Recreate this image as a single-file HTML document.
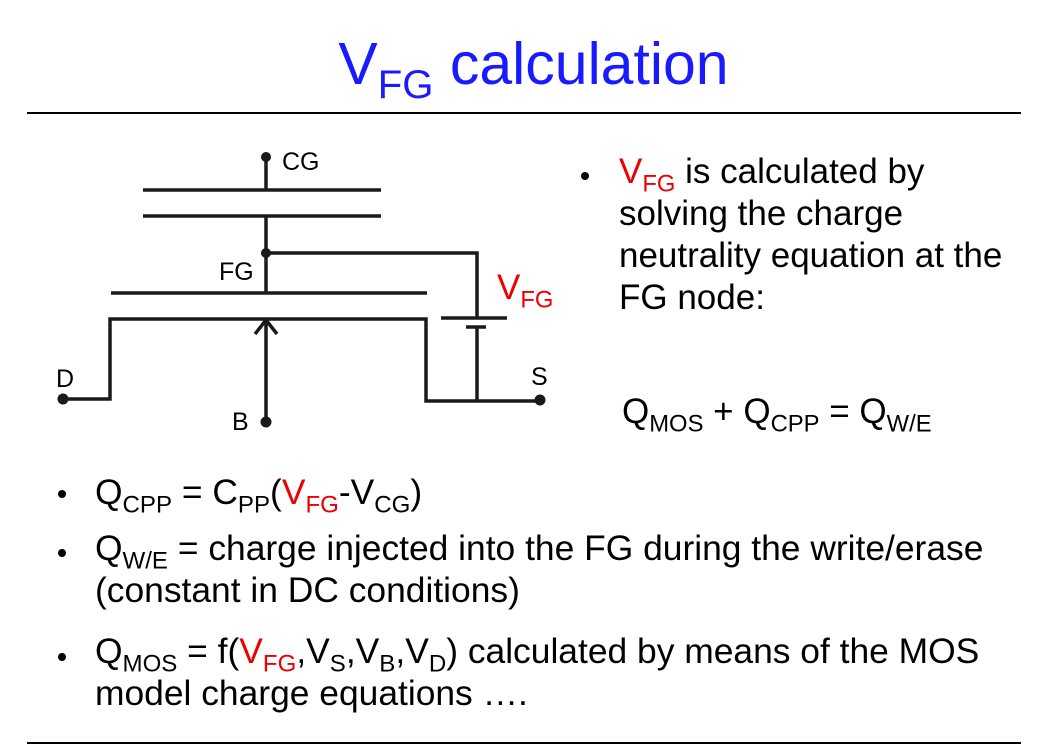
<!DOCTYPE html>
<html><head><style>
body{margin:0;width:1055px;height:748px;background:#fff;font-family:"Liberation Sans",sans-serif;position:relative;overflow:hidden}
.t{position:absolute;white-space:nowrap;color:#000}
sub{font-size:68%;vertical-align:-0.35em;line-height:0}
.r{color:#e00}
.b{position:absolute;width:8px;height:8px;border-radius:50%;background:#000}
</style></head><body>
<div class="t" style="left:0;width:1055px;text-align:center;top:30px;font-size:59px;color:#1a1aff"><span style="margin-left:12px">V<sub>FG</sub> calculation</span></div>
<div style="position:absolute;left:27px;top:112px;width:994px;height:2px;background:#000"></div>
<div style="position:absolute;left:27px;top:742px;width:994px;height:2px;background:#000"></div>
<svg width="1055" height="748" style="position:absolute;left:0;top:0" fill="none" stroke="#1a1a1a" stroke-width="3.5">
<line x1="266" y1="157" x2="266" y2="190"/>
<line x1="143" y1="190" x2="381" y2="190"/>
<line x1="143" y1="216" x2="381" y2="216"/>
<polyline points="266,216 266,253 477,253 477,318"/>
<line x1="266" y1="253" x2="266" y2="293"/>
<line x1="111" y1="293" x2="427" y2="293"/>
<line x1="441" y1="318" x2="507" y2="318"/>
<line x1="466" y1="327" x2="486" y2="327"/>
<line x1="477" y1="327" x2="477" y2="401"/>
<polyline points="63,399 110,399 110,319 426,319 426,401 540,401"/>
<line x1="266" y1="422" x2="266" y2="321"/>
<polyline points="255,334 266,320 277,334"/>
<g fill="#1a1a1a" stroke="none">
<circle cx="266" cy="157" r="5"/><circle cx="266" cy="253" r="5"/>
<circle cx="63" cy="399" r="5.5"/><circle cx="540" cy="400" r="5.5"/><circle cx="266" cy="422" r="5.5"/>
</g>
</svg>
<div class="t" style="left:282px;top:148px;font-size:25px">CG</div>
<div class="t" style="left:219px;top:258px;font-size:25px">FG</div>
<div class="t" style="left:56px;top:365px;font-size:25px">D</div>
<div class="t" style="left:531px;top:363px;font-size:25px">S</div>
<div class="t" style="left:232px;top:408px;font-size:25px">B</div>
<div class="t r" style="left:497px;top:268px;font-size:35px">V<sub>FG</sub></div>
<div class="b" style="left:581px;top:172px"></div>
<div class="t" style="left:619px;top:151px;font-size:35px;line-height:42px"><span class="r">V<sub>FG</sub></span> is calculated by<br>solving the charge<br>neutrality equation at the<br>FG node:</div>
<div class="t" style="left:622px;top:392px;font-size:35px">Q<sub>MOS</sub> + Q<sub>CPP</sub> = Q<sub>W/E</sub></div>
<div class="b" style="left:58px;top:490px"></div>
<div class="t" style="left:95px;top:472px;font-size:35.4px">Q<sub>CPP</sub> = C<sub>PP</sub>(<span class="r">V<sub>FG</sub></span>-V<sub>CG</sub>)</div>
<div class="b" style="left:58px;top:549px"></div>
<div class="t" style="left:95px;top:527px;font-size:35.4px;line-height:42px">Q<sub>W/E</sub> = charge injected into the FG during the write/erase<br>(constant in DC conditions)</div>
<div class="b" style="left:58px;top:653px"></div>
<div class="t" style="left:95px;top:630px;font-size:35.4px;line-height:42px">Q<sub>MOS</sub> = f(<span class="r">V<sub>FG</sub></span>,V<sub>S</sub>,V<sub>B</sub>,V<sub>D</sub>) calculated by means of the MOS<br>model charge equations ….</div>
</body></html>
